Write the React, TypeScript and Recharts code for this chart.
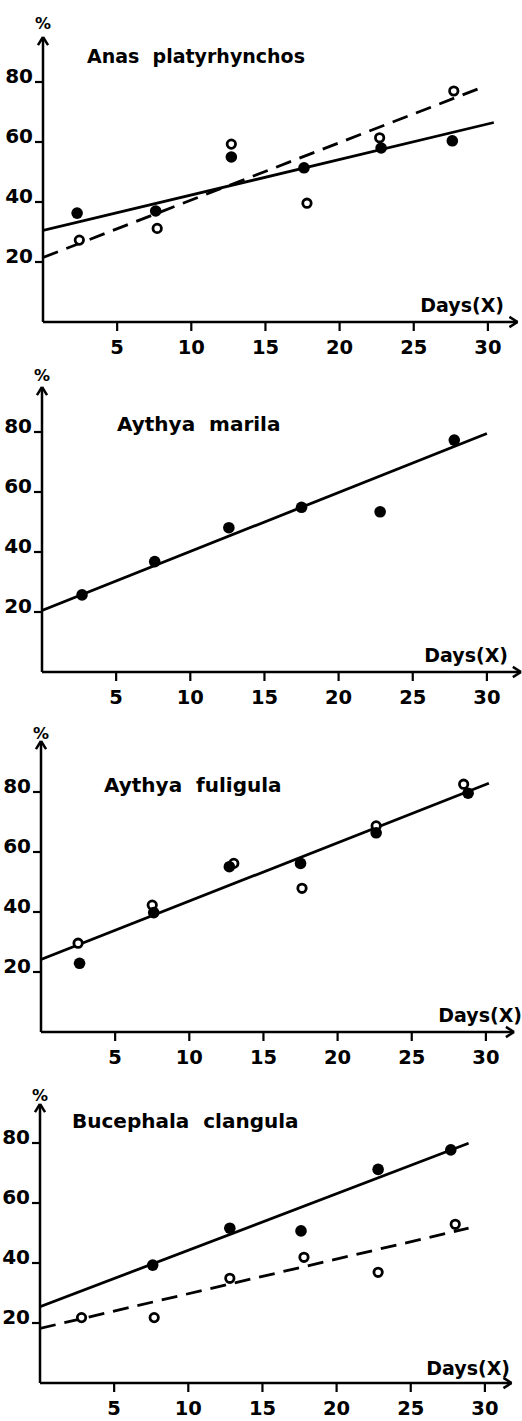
import React from 'react';
import { ComposedChart, XAxis, YAxis, Scatter, Line, ReferenceLine } from 'recharts';

// ---------- data ----------
const xTicks = [5, 10, 15, 20, 25, 30];
const yTicks = [20, 40, 60, 80];
const xAxisTitle = 'Days(X)';
const yAxisTitle = '%';

// Anas platyrhynchos
const anasFilled = [
  { x: 2.3, y: 36.3 }, { x: 7.6, y: 37 }, { x: 12.7, y: 55 },
  { x: 17.6, y: 51.4 }, { x: 22.8, y: 58 }, { x: 27.6, y: 60.4 },
];
const anasOpen = [
  { x: 2.45, y: 27.3 }, { x: 7.7, y: 31.2 }, { x: 12.7, y: 59.3 },
  { x: 17.8, y: 39.6 }, { x: 22.7, y: 61.4 }, { x: 27.7, y: 77 },
];
const anasSolidFit = [{ x: 0, y: 30.5 }, { x: 30.4, y: 66.5 }];
const anasDashedFit = [{ x: 0, y: 21.5 }, { x: 29.5, y: 78 }];

// Aythya marila
const marilaFilled = [
  { x: 2.7, y: 25.7 }, { x: 7.6, y: 36.8 }, { x: 12.6, y: 48.1 },
  { x: 17.5, y: 54.9 }, { x: 22.8, y: 53.4 }, { x: 27.8, y: 77.3 },
];
const marilaOpen: { x: number; y: number }[] = [];
const marilaSolidFit = [{ x: 0, y: 20.5 }, { x: 30, y: 79.5 }];
const marilaDashedFit: { x: number; y: number }[] = [];

// Aythya fuligula
const fuligulaFilled = [
  { x: 2.6, y: 22.9 }, { x: 7.6, y: 39.8 }, { x: 12.7, y: 55.1 },
  { x: 17.5, y: 56.2 }, { x: 22.6, y: 66.4 }, { x: 28.8, y: 79.6 },
];
const fuligulaOpen = [
  { x: 2.5, y: 29.6 }, { x: 7.5, y: 42.3 }, { x: 13.0, y: 56.2 },
  { x: 17.6, y: 47.9 }, { x: 22.6, y: 68.7 }, { x: 28.5, y: 82.6 },
];
const fuligulaSolidFit = [{ x: 0, y: 24.2 }, { x: 30.2, y: 82.9 }];
const fuligulaDashedFit: { x: number; y: number }[] = [];

// Bucephala clangula
const bucephalaFilled = [
  { x: 7.6, y: 39.3 }, { x: 12.8, y: 51.6 }, { x: 17.6, y: 50.7 },
  { x: 22.8, y: 71.2 }, { x: 27.7, y: 77.7 },
];
const bucephalaOpen = [
  { x: 2.8, y: 21.8 }, { x: 7.7, y: 21.8 }, { x: 12.8, y: 34.9 },
  { x: 17.8, y: 41.9 }, { x: 22.8, y: 36.9 }, { x: 28, y: 52.9 },
];
const bucephalaSolidFit = [{ x: 0, y: 25.4 }, { x: 28.9, y: 79.9 }];
const bucephalaDashedFit = [{ x: 0, y: 18.2 }, { x: 28.9, y: 51.6 }];

const speciesNames = ['Anas  platyrhynchos', 'Aythya  marila', 'Aythya  fuligula', 'Bucephala  clangula'];

// ---------- layout ----------
const PX_PER_DAY = 14.83;
const PX_PER_PCT = 3;
const FONT = '"DejaVu Sans", Verdana, sans-serif';

const panels = [
  {
    title: speciesNames[0], filled: anasFilled, open: anasOpen, solid: anasSolidFit, dashed: anasDashedFit,
    axisX: 43, axisY: 322, yMax: 95, xMax: 32,
    titleX: 87, titleY: 63, titleSize: 19, pctY: 29, daysRight: 504, daysY: 312,
  },
  {
    title: speciesNames[1], filled: marilaFilled, open: marilaOpen, solid: marilaSolidFit, dashed: marilaDashedFit,
    axisX: 42, axisY: 672, yMax: 95, xMax: 32.3,
    titleX: 117, titleY: 431, titleSize: 20, pctY: 381, daysRight: 508, daysY: 662,
  },
  {
    title: speciesNames[2], filled: fuligulaFilled, open: fuligulaOpen, solid: fuligulaSolidFit, dashed: fuligulaDashedFit,
    axisX: 41, axisY: 1032, yMax: 97, xMax: 31.9,
    titleX: 104, titleY: 792, titleSize: 20, pctY: 739, daysRight: 522, daysY: 1022,
  },
  {
    title: speciesNames[3], filled: bucephalaFilled, open: bucephalaOpen, solid: bucephalaSolidFit, dashed: bucephalaDashedFit,
    axisX: 40, axisY: 1383, yMax: 93, xMax: 31.8,
    titleX: 72, titleY: 1128, titleSize: 20, pctY: 1101, daysRight: 510, daysY: 1375,
  },
];

const TOP_PAD = 40;
const BOTTOM_H = 45;

const FilledDot = (p: any) => <circle cx={p.cx} cy={p.cy} r={5.8} fill="#000" />;
const OpenDot = (p: any) => (
  <circle cx={p.cx} cy={p.cy} r={4.2} fill="#fff" stroke="#000" strokeWidth={2.8} />
);

const XTick = (p: any) => (
  <text x={p.x} y={p.y + 21} textAnchor="middle" fontFamily={FONT} fontWeight="bold" fontSize={19.5} fill="#000">
    {p.payload.value}
  </text>
);
const YTick = (p: any) => (
  <text x={p.x} y={p.y + 1} textAnchor="end" fontFamily={FONT} fontWeight="bold" fontSize={20} fill="#000">
    {p.payload.value}
  </text>
);

function Panel({ cfg }: { cfg: (typeof panels)[number] }) {
  const plotH = cfg.yMax * PX_PER_PCT;
  const plotW = cfg.xMax * PX_PER_DAY;
  const plotTop = cfg.axisY - plotH;
  const chartTop = plotTop - TOP_PAD;
  const height = TOP_PAD + plotH + BOTTOM_H;
  const right = 522 - cfg.axisX - plotW;
  const ax = 0.34; // arrow half-width in days
  const ay = 2.7; // arrow length in %
  const bx = 0.55; // x-arrow length in days
  const by = 1.7; // x-arrow half-width in %
  return (
    <div style={{ position: 'absolute', left: 0, top: chartTop, width: 522, height }}>
      <ComposedChart
        width={522}
        height={height}
        margin={{ top: TOP_PAD, right, bottom: 0, left: 0 }}
      >
        <XAxis
          type="number"
          dataKey="x"
          domain={[0, cfg.xMax]}
          ticks={xTicks}
          allowDataOverflow
          height={BOTTOM_H}
          axisLine={{ stroke: '#000', strokeWidth: 2.5 }}
          tickLine={{ stroke: '#000', strokeWidth: 2.2 }}
          tickSize={9}
          tick={<XTick />}
          interval={0}
        />
        <YAxis
          type="number"
          dataKey="y"
          domain={[0, cfg.yMax]}
          ticks={yTicks}
          allowDataOverflow
          width={cfg.axisX}
          axisLine={{ stroke: '#000', strokeWidth: 2.5 }}
          tickLine={{ stroke: '#000', strokeWidth: 2.2 }}
          tickSize={8}
          tick={<YTick />}
          interval={0}
        />
        <ReferenceLine segment={[{ x: -ax, y: cfg.yMax - ay }, { x: 0, y: cfg.yMax }]} stroke="#000" strokeWidth={2.5} ifOverflow="visible" />
        <ReferenceLine segment={[{ x: ax, y: cfg.yMax - ay }, { x: 0, y: cfg.yMax }]} stroke="#000" strokeWidth={2.5} ifOverflow="visible" />
        <ReferenceLine segment={[{ x: cfg.xMax - bx, y: by }, { x: cfg.xMax, y: 0 }]} stroke="#000" strokeWidth={2.5} ifOverflow="visible" />
        <ReferenceLine segment={[{ x: cfg.xMax - bx, y: -by }, { x: cfg.xMax, y: 0 }]} stroke="#000" strokeWidth={2.5} ifOverflow="visible" />
        <Line data={cfg.solid} dataKey="y" type="linear" stroke="#000" strokeWidth={2.8} dot={false} activeDot={false} isAnimationActive={false} />
        {cfg.dashed.length > 0 && (
          <Line data={cfg.dashed} dataKey="y" type="linear" stroke="#000" strokeWidth={2.8} strokeDasharray="16 9" dot={false} activeDot={false} isAnimationActive={false} />
        )}
        {cfg.open.length > 0 && (
          <Scatter data={cfg.open} dataKey="y" shape={OpenDot} isAnimationActive={false} />
        )}
        <Scatter data={cfg.filled} dataKey="y" shape={FilledDot} isAnimationActive={false} />
        <text x={cfg.titleX} y={cfg.titleY - chartTop} fontFamily={FONT} fontWeight="bold" fontSize={cfg.titleSize} fill="#000" style={{ whiteSpace: 'pre' }}>
          {cfg.title}
        </text>
        <text x={cfg.axisX} y={cfg.pctY - chartTop} textAnchor="middle" fontFamily={FONT} fontWeight="bold" fontSize={16} fill="#000">
          {yAxisTitle}
        </text>
        <text x={cfg.daysRight} y={cfg.daysY - chartTop} textAnchor="end" fontFamily={FONT} fontWeight="bold" fontSize={19} fill="#000">
          {xAxisTitle}
        </text>
      </ComposedChart>
    </div>
  );
}

export default function App() {
  return (
    <div style={{ position: 'absolute', left: 0, top: 0, width: 522, height: 1421, background: '#fff', overflow: 'hidden' }}>
      {panels.map((cfg, i) => (
        <Panel key={i} cfg={cfg} />
      ))}
    </div>
  );
}
